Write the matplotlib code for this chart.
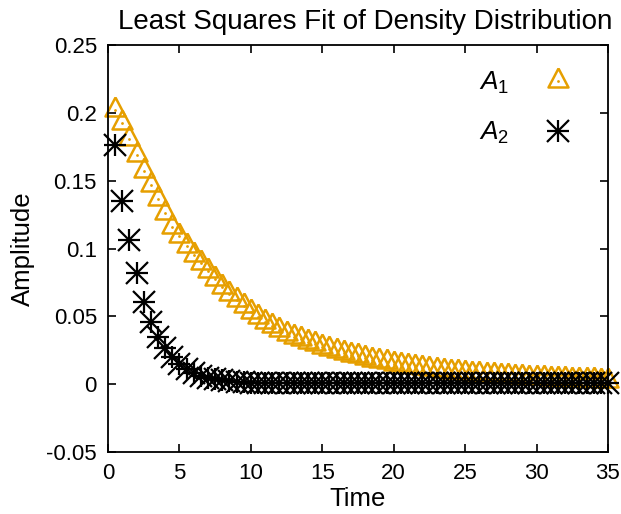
import matplotlib
matplotlib.use('Agg')
import matplotlib.pyplot as plt
from matplotlib.ticker import FormatStrFormatter
from matplotlib.legend_handler import HandlerTuple

plt.rcParams['font.family'] = ['Liberation Sans', 'DejaVu Sans']
plt.rcParams['mathtext.fontset'] = 'custom'
plt.rcParams['mathtext.it'] = 'Liberation Sans:italic'
plt.rcParams['mathtext.rm'] = 'Liberation Sans'
plt.rcParams['axes.unicode_minus'] = False

# sample times (0.5 step)
time = [0.5 * k for k in range(1, 71)]

# fitted amplitudes
a1 = [0.2020, 0.1925, 0.1807, 0.1690, 0.1575, 0.1470, 0.1364, 0.1260, 0.1162, 0.1090,
      0.1022, 0.0955, 0.0890, 0.0835, 0.0775, 0.0719, 0.0667, 0.0619, 0.0575, 0.0533,
      0.0495, 0.0459, 0.0426, 0.0396, 0.0370, 0.0350, 0.0330, 0.0311, 0.0293, 0.0276,
      0.0260, 0.0245, 0.0231, 0.0217, 0.0204, 0.0192, 0.0181, 0.0170, 0.0160, 0.0150,
      0.0141, 0.0133, 0.0125, 0.0118, 0.0111, 0.0104, 0.0098, 0.0092, 0.0087, 0.0082,
      0.0077, 0.0072, 0.0068, 0.0064, 0.0060, 0.0057, 0.0053, 0.0050, 0.0047, 0.0044,
      0.0042, 0.0039, 0.0037, 0.0035, 0.0033, 0.0031, 0.0029, 0.0027, 0.0026, 0.0024]
a2 = [0.1765, 0.1350, 0.1063, 0.0818, 0.0608, 0.0460, 0.0350, 0.0263, 0.0200, 0.0145,
      0.0108, 0.0082, 0.0062, 0.0047, 0.0036, 0.0028, 0.0021, 0.0016, 0.0013, 0.0010,
      0.0008, 0.0007, 0.0006, 0.0005, 0.0005, 0.0005, 0.0005, 0.0005, 0.0005, 0.0005,
      0.0005, 0.0005, 0.0005, 0.0005, 0.0005, 0.0005, 0.0005, 0.0005, 0.0005, 0.0005,
      0.0005, 0.0005, 0.0005, 0.0005, 0.0005, 0.0005, 0.0005, 0.0005, 0.0005, 0.0005,
      0.0005, 0.0005, 0.0005, 0.0005, 0.0005, 0.0005, 0.0005, 0.0005, 0.0005, 0.0005,
      0.0005, 0.0005, 0.0005, 0.0005, 0.0005, 0.0005, 0.0005, 0.0005, 0.0005, 0.0005]

orange = '#E69F00'
# gnuplot style triangle: data point sits below the bbox centre
tri = [(0, 13), (-10, -6), (10, -6), (0, 13)]

fig = plt.figure(figsize=(6.21, 5.14), dpi=100)
ax = fig.add_axes([0.174, 0.121, 0.805, 0.791])

t1, = ax.plot(time, a1, ls='none', marker=tri, ms=18.7, mfc='none', mec=orange,
              mew=1.8, clip_on=False)
d1, = ax.plot(time, a1, ls='none', marker='o', ms=2, mfc=orange, mec='none', clip_on=False)
p2, = ax.plot(time, a2, ls='none', marker='+', ms=16.5, mec='black', mew=1.6, clip_on=False)
x2, = ax.plot(time, a2, ls='none', marker='x', ms=16.5, mec='black', mew=1.6, clip_on=False)

ax.set_xlim(0, 35)
ax.set_ylim(-0.05, 0.25)
ax.set_xticks(range(0, 36, 5))
ax.set_yticks([-0.05, 0, 0.05, 0.1, 0.15, 0.2, 0.25])
ax.yaxis.set_major_formatter(FormatStrFormatter('%g'))
ax.tick_params(direction='in', length=6, width=1.2, top=True, right=True,
               labelsize=16, pad=8)
for s in ax.spines.values():
    s.set_linewidth(1.3)

ax.set_title('Least Squares Fit of Density Distribution', fontsize=20, pad=12, x=0.514)
ax.set_xlabel('Time', fontsize=18.5, labelpad=2)
ax.set_ylabel('Amplitude', fontsize=18.5, labelpad=8)

ax.legend([(t1, d1), (p2, x2)], [r'$\mathit{A}_{\mathit{1}}$', r'$\mathit{A}_{\mathit{2}}$'],
          handler_map={tuple: HandlerTuple(ndivide=1)},
          loc='upper right', bbox_to_anchor=(1.0, 1.014), frameon=False,
          markerfirst=False, fontsize=19, numpoints=1, handlelength=1.5,
          handletextpad=1.1, labelspacing=0.9, borderaxespad=0.75)

fig.savefig('out.png', dpi=100)
